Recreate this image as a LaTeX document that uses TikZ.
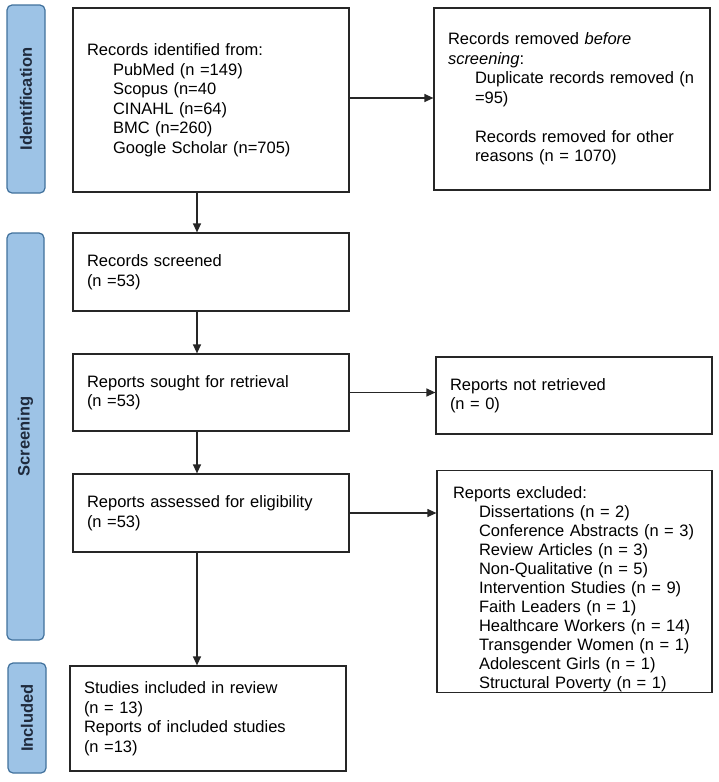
\documentclass[tikz,border=0pt]{standalone}
\usepackage{fontspec}
\setmainfont{Liberation Sans}
\usetikzlibrary{arrows.meta}
\definecolor{barfill}{HTML}{9DC3E6}
\definecolor{bardraw}{HTML}{41719C}
\definecolor{bartext}{HTML}{1F2A3C}
\definecolor{boxdraw}{HTML}{262626}
\begin{document}
\begin{tikzpicture}[x=1pt,y=-1pt,
  txt/.style={font=\fontsize{16.5}{19.5}\selectfont},
  box/.style={draw=boxdraw,line width=1.2pt,txt,align=left,inner xsep=14pt,inner ysep=0pt,anchor=center},
  bar/.style={draw=bardraw,fill=barfill,line width=1.2pt,rounded corners=5pt,anchor=center,inner sep=0pt},
  bartxt/.style={rotate=90,font=\fontsize{16.5}{19.5}\selectfont\bfseries,text=bartext},
  arr/.style={draw=boxdraw,line width=1.2pt,-{Triangle[length=9pt,width=8pt]}}]
\useasboundingbox (0,0) rectangle (718,782);
% side bars
\node[bar,minimum width=38pt,minimum height=188pt] (bid) at (26,99) {};
\node[bartxt] (tid) at (bid.center) {Identification};
\node[bar,minimum width=37pt,minimum height=407pt] (bsc) at (25.5,436.5) {};
\node[bartxt] (tsc) at (bsc.center) {Screening};
\node[bar,minimum width=38pt,minimum height=110pt] (bin) at (27,718) {};
\node[bartxt] (tin) at (bin.center) {Included};
% boxes
\node[box,text width=248pt,minimum height=184pt] (id) at (211,100) {Records identified from:\\
\hspace*{26pt}PubMed (n =149)\\
\hspace*{26pt}Scopus (n=40\\
\hspace*{26pt}CINAHL (n=64)\\
\hspace*{26pt}BMC (n=260)\\
\hspace*{26pt}Google Scholar (n=705)};
\node[box,text width=248pt,minimum height=182pt] (rem) at (572,99) {Records removed \textit{before}\\
\textit{screening}:\\
\hspace*{27pt}\mbox{Duplicate records removed (n}\\
\hspace*{27pt}=95)\\[19.5pt]
\hspace*{27pt}Records removed for other\\
\hspace*{27pt}reasons (n = 1070)};
\node[box,text width=248pt,minimum height=78pt] (scr) at (211,272) {Records screened\\(n =53)};
\node[box,text width=248pt,minimum height=77pt] (sought) at (211,392.5) {Reports sought for retrieval\\(n =53)};
\node[box,text width=248pt,minimum height=77pt] (notret) at (574,395.5) {Reports not retrieved\\(n = 0)};
\node[box,text width=248pt,minimum height=78pt] (assess) at (211,513) {Reports assessed for eligibility\\(n =53)};
\node[box,inner xsep=16pt,text width=243pt,minimum height=213pt,font=\fontsize{16.5}{19}\selectfont] (excl) at (574.5,581.5) {\rule{0pt}{28pt}Reports excluded:\\
\hspace*{26pt}Dissertations (n = 2)\\
\hspace*{26pt}Conference Abstracts (n = 3)\\
\hspace*{26pt}Review Articles (n = 3)\\
\hspace*{26pt}Non-Qualitative (n = 5)\\
\hspace*{26pt}Intervention Studies (n = 9)\\
\hspace*{26pt}Faith Leaders (n = 1)\\
\hspace*{26pt}Healthcare Workers (n = 14)\\
\hspace*{26pt}Transgender Women (n = 1)\\
\hspace*{26pt}Adolescent Girls (n = 1)\\
\hspace*{26pt}Structural Poverty (n = 1)};
\node[box,text width=248pt,minimum height=105pt] (incl) at (208,718.5) {Studies included in review\\(n = 13)\\Reports of included studies\\(n =13)};
% connectors
\draw[arr] ([xshift=-14pt]id.south) -- ([xshift=-14pt]scr.north);
\draw[arr] ([xshift=-14pt]scr.south) -- ([xshift=-14pt]sought.north);
\draw[arr] ([xshift=-14pt]sought.south) -- ([xshift=-14pt]assess.north);
\draw[arr] ([xshift=-14pt]assess.south) -- ([xshift=-14pt]assess.south |- incl.north);
\draw[arr] ([yshift=2pt]id.east) -- ([yshift=2pt]id.east -| rem.west);
\draw[arr] (sought.east) -- (sought.east -| notret.west);
\draw[arr] (assess.east) -- (assess.east -| excl.west);
\end{tikzpicture}
\end{document}
